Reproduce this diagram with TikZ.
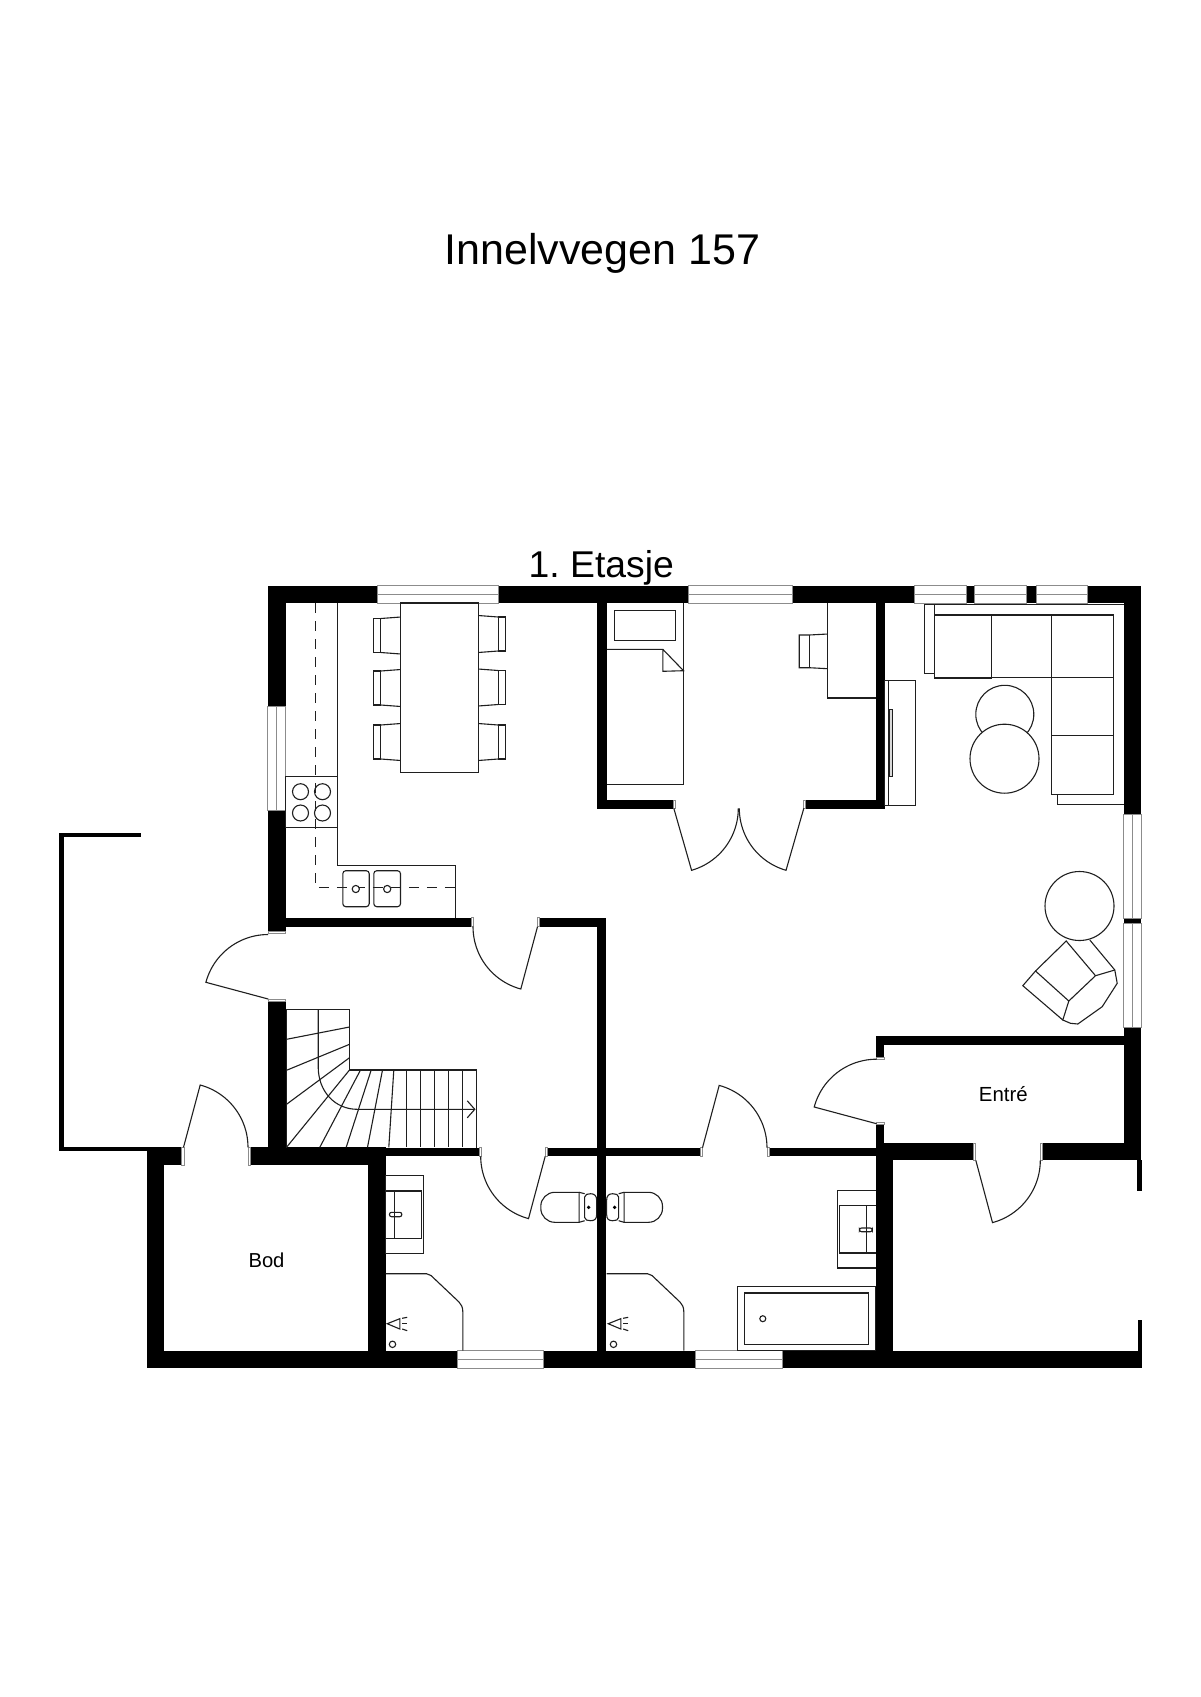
\documentclass[tikz,border=0pt]{standalone}
\usepackage{fontspec}
\setmainfont{Liberation Sans}
\usetikzlibrary{arrows.meta}
\tikzstyle{wall} = [fill=black]
\tikzstyle{furn} = [draw=black!88, line width=1.1pt]
\tikzstyle{window} = [draw=black!45, line width=0.9pt, fill=white]
\tikzstyle{jamb} = [draw=black!45, line width=0.6pt, fill=white]
\tikzstyle{label} = [anchor=base, inner sep=0pt]
\def\door(#1,#2,#3,#4){\draw[furn] (#1,#2) -- plot[variable=\t,domain=#3:#4,samples=25] ({#1+64.5*cos(\t)},{#2+64.5*sin(\t)});}
\def\chair(#1,#2,#3){\draw[furn] ({#1+#3*20},{#2-17}) rectangle ({#1+#3*27},{#2+17});
\draw[furn] (#1,{#2-18.5}) -- ({#1+#3*20},{#2-17});
\draw[furn] (#1,{#2+18.5}) -- ({#1+#3*20},{#2+17});}
\def\shower(#1){\begin{scope}[xshift=#1]
\draw[furn] (385,1273.7) -- (426,1273.7) .. controls (428,1273.7) and (429,1274.2) .. (430.5,1275.5) -- (458.5,1302) .. controls (461,1304.5) and (462.3,1307.5) .. (462.3,1311.7) -- (462.3,1350.7);
\draw[furn] (399.3,1318.7) -- (386.7,1323.7) -- (399.3,1329) -- cycle;
\draw[furn] (401.7,1318.3) -- (406.7,1317.3);
\draw[furn] (401.7,1323.7) -- (406.7,1323.7);
\draw[furn] (401.7,1329) -- (406.7,1330.7);
\draw[furn] (392,1344.3) circle (3.2pt);
\end{scope}}
\def\toilet(#1){\begin{scope}[shift={(601.15,0)},xscale=#1]
\draw[furn] (-22.5,1192.3) [rounded corners=14pt] -- (-60.85,1192.3) -- (-60.85,1222.3) [sharp corners] -- (-22.5,1222.3) -- cycle;
\draw[furn] (-22.5,1192.3) -- (-17,1193.7);
\draw[furn] (-22.5,1222.3) -- (-17,1220.7);
\draw[furn] (-17,1197) .. controls (-17,1194.5) and (-14,1193.7) .. (-11,1193.7) .. controls (-7,1193.7) and (-5,1196) .. (-5,1200) -- (-5,1214.5) .. controls (-5,1219) and (-7,1220.7) .. (-11,1220.7) .. controls (-14,1220.7) and (-17,1220) .. (-17,1217.5) -- cycle;
\fill (-13,1207.3) circle (1.9pt);
\end{scope}}
\begin{document}
\begin{tikzpicture}[x=1pt,y=-1pt]
\path[use as bounding box, fill=white] (0,0) rectangle (1200,1697);
\node[label] (title) at (602.5,264) {\fontsize{43}{50}\selectfont Innelvvegen 157};
\node[label] (floor) at (601.3,577) {\fontsize{37.3}{44}\selectfont 1.\ Etasje};
\node[label] (bod) at (266.5,1267.5) {\fontsize{20.2}{24}\selectfont Bod};
\node[label] (entre) at (1003.3,1101.5) {\fontsize{20.4}{24}\selectfont Entré};
\begin{scope}[xshift=0.5pt]
% outer walls
\fill[wall] (267.3,585.7) rectangle (377.3,603);
\fill[wall] (498,585.7) rectangle (687.7,603);
\fill[wall] (791.7,585.7) rectangle (914,603);
\fill[wall] (966,585.7) rectangle (974,603);
\fill[wall] (1025.7,585.7) rectangle (1035.7,603);
\fill[wall] (1087.3,585.7) rectangle (1140.7,603);
\fill[wall] (1123.3,585.7) rectangle (1140.7,814);
\fill[wall] (1123.3,918) rectangle (1140.7,923.7);
\fill[wall] (1123.3,1027.3) rectangle (1140.7,1160.3);
\fill[wall] (267.3,585.7) rectangle (285,706.7);
\fill[wall] (267.3,810.7) rectangle (285,933.3);
\fill[wall] (267.3,999) rectangle (285,1165);
\fill[wall] (146.3,1350.7) rectangle (457.3,1368);
\fill[wall] (543.3,1350.7) rectangle (695,1368);
\fill[wall] (781.7,1350.7) rectangle (1141.7,1368);
\fill[wall] (1136.7,1160) rectangle (1141,1191);
\fill[wall] (1137,1320) rectangle (1141.7,1368);
% inner walls
\fill[wall] (285,917.7) rectangle (470.7,926.7);
\fill[wall] (538.7,917.7) rectangle (605.3,926.7);
\fill[wall] (596.7,917.7) rectangle (605.5,1368);
\fill[wall] (146.3,1147.3) rectangle (181.7,1165);
\fill[wall] (249.3,1147.3) rectangle (385,1165);
\fill[wall] (385,1147.7) rectangle (478.3,1156.3);
\fill[wall] (546.7,1147.7) rectangle (700,1156.3);
\fill[wall] (768.3,1147.7) rectangle (875,1156.3);
\fill[wall] (146.3,1147.3) rectangle (163.3,1368);
\fill[wall] (367.3,1147.3) rectangle (385,1368);
\fill[wall] (875,1143) rectangle (892.3,1368);
\fill[wall] (875.3,1143) rectangle (972.7,1160.3);
\fill[wall] (1041.7,1143) rectangle (1140.7,1160.3);
\fill[wall] (875.3,1036) rectangle (1123.3,1044.7);
\fill[wall] (875.3,1036) rectangle (883.7,1057.3);
\fill[wall] (875.3,1124) rectangle (883.7,1143);
\fill[wall] (596.7,603) rectangle (606.3,808.7);
\fill[wall] (596.7,800) rectangle (672.3,808.7);
\fill[wall] (805,800) rectangle (884,808.7);
\fill[wall] (875,603) rectangle (884,808.7);
% terrace
\fill[wall] (58.3,832.7) rectangle (140.7,837);
\fill[wall] (58.3,832.7) rectangle (63.3,1151.3);
\fill[wall] (58.3,1147.3) rectangle (146.3,1151.3);
% windows
\draw[window] (377.3,585.7) rectangle (498,603); \draw[window] (377.3,594.3) -- (498,594.3);
\draw[window] (687.7,585.7) rectangle (791.7,603); \draw[window] (687.7,594.3) -- (791.7,594.3);
\draw[window] (914,585.7) rectangle (966,603); \draw[window] (914,594.3) -- (966,594.3);
\draw[window] (974,585.7) rectangle (1025.7,603); \draw[window] (974,594.3) -- (1025.7,594.3);
\draw[window] (1035.7,585.7) rectangle (1087.3,603); \draw[window] (1035.7,594.3) -- (1087.3,594.3);
\draw[window] (267.3,706.7) rectangle (285,810.7); \draw[window] (276,706.7) -- (276,810.7);
\draw[window] (1123.3,814) rectangle (1140.7,918); \draw[window] (1132,814) -- (1132,918);
\draw[window] (1123.3,923.7) rectangle (1140.7,1027.3); \draw[window] (1132,923.7) -- (1132,1027.3);
\draw[window] (457.3,1350.7) rectangle (543.3,1368); \draw[window] (457.3,1359.3) -- (543.3,1359.3);
\draw[window] (695,1350.7) rectangle (781.7,1368); \draw[window] (695,1359.3) -- (781.7,1359.3);
% door jambs
\draw[jamb] (470.7,917.7) rectangle (473,926.7);
\draw[jamb] (536.5,917.7) rectangle (538.7,926.7);
\draw[jamb] (478.3,1147.7) rectangle (481,1156.3);
\draw[jamb] (544.5,1147.7) rectangle (546.7,1156.3);
\draw[jamb] (700,1147.7) rectangle (702,1156.3);
\draw[jamb] (766.5,1147.7) rectangle (768.3,1156.3);
\draw[jamb] (672.3,800) rectangle (674.5,808.7);
\draw[jamb] (803,800) rectangle (805,808.7);
\draw[jamb] (875.3,1057.3) rectangle (883.7,1059.5);
\draw[jamb] (875.3,1122) rectangle (883.7,1124);
\draw[jamb] (972.7,1143) rectangle (975,1160.3);
\draw[jamb] (1039.5,1143) rectangle (1041.7,1160.3);
\draw[jamb] (267.3,931) rectangle (285,933.3);
\draw[jamb] (267.3,999) rectangle (285,1001);
\draw[jamb] (181,1147.3) rectangle (183.3,1165);
\draw[jamb] (247.3,1147.3) rectangle (250,1165);
% doors
\door(537,926.7,105,180)
\door(673.3,808.3,74,0)
\door(803.3,808.3,106,180)
\door(876,1123.7,195,270)
\door(975.3,1160.3,75,0)
\door(267.7,999,195,270)
\door(183,1147.3,285,360)
\door(544.7,1156.3,105,180)
\door(702,1147.7,285,360)
% kitchen
\draw[furn] (336.7,603) -- (336.7,865.7) -- (455.3,865.7) -- (455.3,917.7);
\draw[furn, line width=1.3pt, dash pattern=on 10pt off 8pt] (315,603) -- (315,887.7) -- (455.3,887.7);
\draw[furn] (285,776.7) rectangle (336.7,827.7);
\draw[furn] (300,791.7) circle (8pt);
\draw[furn] (322,791.7) circle (8pt);
\draw[furn] (300,813) circle (8pt);
\draw[furn] (322,813) circle (8pt);
\draw[furn, rounded corners=3pt] (342.3,870.7) rectangle (368.7,906.7);
\draw[furn, rounded corners=3pt] (373.3,870.7) rectangle (400,906.7);
\draw[furn, fill=white] (355.3,889) circle (3.6pt);
\draw[furn, fill=white] (386.7,889) circle (3.6pt);
% dining table
\draw[furn] (400.3,603) rectangle (477.7,772.3);
\chair(400.3,635.5,-1)
\chair(400.3,688,-1)
\chair(400.3,742,-1)
\chair(477.7,634,1)
\chair(477.7,687.5,1)
\chair(477.7,742,1)
% bedroom
\draw[furn] (683,603) -- (683,784.7) -- (606.3,784.7);
\draw[furn] (606.3,649.3) -- (662.3,649.3) -- (683,670.7) -- (662.3,671.3) -- (662.3,649.3);
\draw[furn] (614.3,610.7) rectangle (674.7,640.7);
\draw[furn] (827.3,603) -- (827.3,698) -- (875,698);
\draw[furn] (827.3,634) -- (808.7,635) -- (798.7,635) -- (798.7,667.7) -- (808.7,667.7) -- (827.3,668.7);
\draw[furn] (808.7,635) -- (808.7,667.7);
% tv unit
\draw[furn] (884.3,680.3) rectangle (914.7,805.3);
\draw[furn] (887.7,680.3) -- (887.7,805.3);
\draw[furn, fill=black!15] (888.7,709.3) rectangle (892.3,776.7);
% sofa
\draw[furn] (934,604.3) -- (1123.3,604.3);
\draw[furn] (924,604.7) rectangle (933.7,673.3);
\draw[furn] (933.7,604.3) -- (933.7,678);
\draw[furn] (933.7,615) rectangle (991.3,678);
\draw[furn] (991.3,615) rectangle (1051.3,677.5);
\draw[furn] (1051.3,615) rectangle (1112.7,677.5);
\draw[furn] (1051.3,677.5) rectangle (1112.7,735.7);
\draw[furn] (1051.3,735.7) rectangle (1112.7,794.3);
\draw[furn] (1056.7,794.3) -- (1056.7,804.7) -- (1123.3,804.7);
\draw[furn] (1004.3,714.3) circle (29pt);
\draw[furn, fill=white] (1004,758.7) circle (34.5pt);
% armchair and round table
\draw[furn] (1079,906) circle (34.5pt);
\draw[furn] (1035,971) -- (1022.3,985.7) -- (1062.3,1020) -- (1068.3,1001) -- cycle;
\draw[furn] (1035,971) -- (1065.7,941) -- (1095,975.7) -- (1068.3,1001);
\draw[furn] (1095,975.7) -- (1114.3,970);
\draw[furn] (1089.3,940) -- (1114.3,970) -- (1116.7,983.3) -- (1101.7,1006.7) -- (1077.3,1024) -- (1070,1023.3) -- (1062.3,1020);
% stairs
\draw[furn] (286,1147.7) -- (286,1009.3) -- (349,1009.3) -- (349,1070) -- (475.7,1070) -- (475.7,1147.7);
\draw[furn] (286,1039.3) -- (349,1027);
\draw[furn] (286,1070.3) -- (349,1044.3);
\draw[furn] (286,1104.3) -- (349,1057.7);
\draw[furn] (286,1147.3) -- (349,1070);
\draw[furn] (319.3,1147.3) -- (360,1070);
\draw[furn] (345.7,1147.3) -- (370.7,1070);
\draw[furn] (367,1147.3) -- (382,1070);
\draw[furn] (388.3,1147.3) -- (393.3,1070);
\draw[furn] (406,1070) -- (406,1147.3);
\draw[furn] (420,1070) -- (420,1147.3);
\draw[furn] (434,1070) -- (434,1147.3);
\draw[furn] (448,1070) -- (448,1147.3);
\draw[furn] (462,1070) -- (462,1147.3);
\draw[furn, -{Straight Barb[length=7.5pt,width=17pt]}] (317.7,1009.3) -- (317.7,1066.7) .. controls (317.7,1092) and (335,1109.3) .. (356.7,1109.3) -- (475,1109.3);
% bathrooms
\draw[furn] (385,1175.7) rectangle (423.3,1253.7);
\draw[furn] (385,1191) rectangle (420.7,1238.3);
\draw[furn] (393.7,1191) -- (393.7,1238.3);
\draw[furn, rounded corners=2pt] (389,1212.3) rectangle (401.3,1216.7);
\draw[furn] (875,1190.3) -- (836.7,1190.3) -- (836.7,1268) -- (875,1268);
\draw[furn] (875,1205.7) -- (839.3,1205.7) -- (839.3,1253) -- (875,1253);
\draw[furn] (866.3,1205.7) -- (866.3,1253);
\draw[furn, rounded corners=2pt] (859,1228) rectangle (871.7,1231.7);
\draw[furn] (736.7,1286.3) rectangle (875,1350.7);
\draw[furn] (743.7,1293) rectangle (868,1344.7);
\draw[furn] (762.3,1318.7) circle (3pt);
\shower(0)
\shower(221)
\toilet(1)
\toilet(-1)
\end{scope}
\end{tikzpicture}
\end{document}
